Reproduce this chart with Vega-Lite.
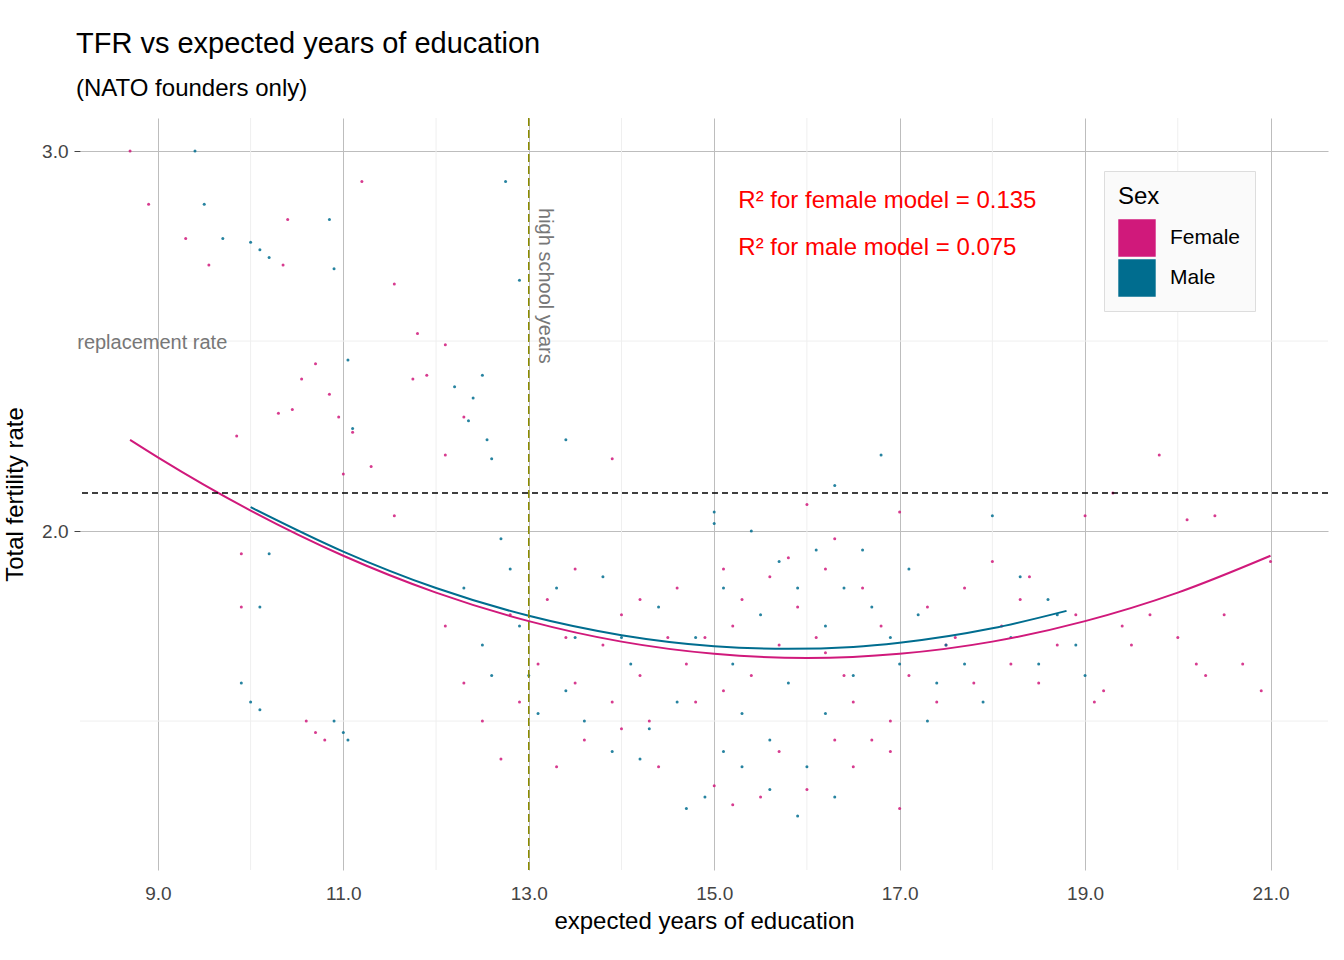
{
"$schema":"https://vega.github.io/schema/vega-lite/v6.json",
"width":1248,"height":752,"autosize":"none",
"padding":{"left":80,"top":118,"right":16,"bottom":90},
"background":"white",
"config":{"view":{"stroke":null},"font":"Liberation Sans"},
"title":{"text":"TFR vs expected years of education","subtitle":"(NATO founders only)","anchor":"start","frame":"group","offset":16,"dx":-4,"fontSize":29,"fontWeight":"normal","subtitleFontSize":24,"subtitlePadding":18,"color":"black","subtitleColor":"black","font":"Liberation Sans","subtitleFont":"Liberation Sans"},
"datasets":{
"pts":[
{"x":8.7,"y":3.0,"s":"Female"},{"x":8.9,"y":2.86,"s":"Female"},{"x":9.3,"y":2.77,"s":"Female"},{"x":9.55,"y":2.7,"s":"Female"},{"x":10.4,"y":2.82,"s":"Female"},{"x":10.35,"y":2.7,"s":"Female"},{"x":9.85,"y":2.25,"s":"Female"},{"x":11.2,"y":2.92,"s":"Female"},{"x":11.55,"y":2.65,"s":"Female"},{"x":11.8,"y":2.52,"s":"Female"},{"x":12.1,"y":2.49,"s":"Female"},{"x":11.75,"y":2.4,"s":"Female"},{"x":11.9,"y":2.41,"s":"Female"},{"x":10.7,"y":2.44,"s":"Female"},{"x":10.55,"y":2.4,"s":"Female"},{"x":10.85,"y":2.36,"s":"Female"},{"x":10.45,"y":2.32,"s":"Female"},{"x":10.3,"y":2.31,"s":"Female"},{"x":10.95,"y":2.3,"s":"Female"},{"x":11.1,"y":2.26,"s":"Female"},{"x":11.0,"y":2.15,"s":"Female"},{"x":11.3,"y":2.17,"s":"Female"},{"x":11.55,"y":2.04,"s":"Female"},{"x":12.3,"y":2.3,"s":"Female"},{"x":12.1,"y":2.2,"s":"Female"},{"x":13.9,"y":2.19,"s":"Female"},{"x":9.9,"y":1.94,"s":"Female"},{"x":9.9,"y":1.8,"s":"Female"},{"x":10.6,"y":1.5,"s":"Female"},{"x":10.7,"y":1.47,"s":"Female"},{"x":10.8,"y":1.45,"s":"Female"},
{"x":12.1,"y":1.75,"s":"Female"},{"x":12.3,"y":1.6,"s":"Female"},{"x":12.5,"y":1.5,"s":"Female"},{"x":12.7,"y":1.4,"s":"Female"},{"x":12.9,"y":1.55,"s":"Female"},{"x":13.1,"y":1.65,"s":"Female"},{"x":13.2,"y":1.82,"s":"Female"},{"x":13.4,"y":1.72,"s":"Female"},{"x":13.5,"y":1.6,"s":"Female"},{"x":13.6,"y":1.45,"s":"Female"},{"x":13.8,"y":1.7,"s":"Female"},{"x":13.9,"y":1.55,"s":"Female"},{"x":14.0,"y":1.78,"s":"Female"},{"x":14.2,"y":1.62,"s":"Female"},{"x":14.3,"y":1.5,"s":"Female"},{"x":14.4,"y":1.38,"s":"Female"},{"x":14.5,"y":1.72,"s":"Female"},{"x":14.6,"y":1.85,"s":"Female"},{"x":14.7,"y":1.65,"s":"Female"},{"x":14.8,"y":1.55,"s":"Female"},{"x":15.0,"y":1.33,"s":"Female"},{"x":15.1,"y":1.9,"s":"Female"},{"x":15.2,"y":1.75,"s":"Female"},{"x":15.3,"y":1.82,"s":"Female"},{"x":15.4,"y":1.62,"s":"Female"},{"x":15.5,"y":1.3,"s":"Female"},{"x":15.6,"y":1.88,"s":"Female"},{"x":15.7,"y":1.7,"s":"Female"},{"x":15.8,"y":1.93,"s":"Female"},{"x":15.9,"y":1.8,"s":"Female"},{"x":16.0,"y":2.07,"s":"Female"},{"x":16.1,"y":1.72,"s":"Female"},{"x":16.2,"y":1.9,"s":"Female"},{"x":16.3,"y":1.45,"s":"Female"},{"x":16.4,"y":1.62,"s":"Female"},{"x":16.5,"y":1.38,"s":"Female"},{"x":16.6,"y":1.85,"s":"Female"},{"x":16.7,"y":1.45,"s":"Female"},{"x":16.8,"y":1.75,"s":"Female"},{"x":16.9,"y":1.5,"s":"Female"},{"x":17.0,"y":2.05,"s":"Female"},{"x":17.1,"y":1.62,"s":"Female"},{"x":17.3,"y":1.8,"s":"Female"},{"x":17.4,"y":1.55,"s":"Female"},{"x":17.5,"y":1.7,"s":"Female"},{"x":17.7,"y":1.85,"s":"Female"},{"x":17.8,"y":1.6,"s":"Female"},{"x":18.0,"y":1.92,"s":"Female"},{"x":18.1,"y":1.75,"s":"Female"},{"x":18.2,"y":1.65,"s":"Female"},{"x":18.3,"y":1.82,"s":"Female"},{"x":18.5,"y":1.6,"s":"Female"},{"x":18.7,"y":1.7,"s":"Female"},{"x":18.9,"y":1.78,"s":"Female"},{"x":19.0,"y":2.04,"s":"Female"},{"x":19.1,"y":1.55,"s":"Female"},{"x":19.3,"y":2.1,"s":"Female"},{"x":19.4,"y":1.75,"s":"Female"},{"x":19.5,"y":1.7,"s":"Female"},{"x":19.7,"y":1.78,"s":"Female"},{"x":19.8,"y":2.2,"s":"Female"},{"x":20.0,"y":1.72,"s":"Female"},{"x":20.1,"y":2.03,"s":"Female"},{"x":20.2,"y":1.65,"s":"Female"},{"x":20.4,"y":2.04,"s":"Female"},{"x":20.5,"y":1.78,"s":"Female"},{"x":20.7,"y":1.65,"s":"Female"},{"x":20.9,"y":1.58,"s":"Female"},{"x":21.0,"y":1.92,"s":"Female"},{"x":19.2,"y":1.58,"s":"Female"},{"x":20.3,"y":1.62,"s":"Female"},{"x":14.0,"y":1.48,"s":"Female"},{"x":13.3,"y":1.38,"s":"Female"},{"x":15.7,"y":1.42,"s":"Female"},{"x":16.0,"y":1.32,"s":"Female"},{"x":16.9,"y":1.42,"s":"Female"},{"x":17.0,"y":1.27,"s":"Female"},{"x":15.2,"y":1.28,"s":"Female"},{"x":12.8,"y":1.78,"s":"Female"},{"x":13.5,"y":1.9,"s":"Female"},{"x":14.2,"y":1.82,"s":"Female"},{"x":16.3,"y":1.98,"s":"Female"},{"x":17.6,"y":1.72,"s":"Female"},{"x":18.4,"y":1.88,"s":"Female"},{"x":16.5,"y":1.55,"s":"Female"},{"x":15.1,"y":1.58,"s":"Female"},{"x":14.9,"y":1.72,"s":"Female"},{"x":16.2,"y":1.68,"s":"Female"},
{"x":9.4,"y":3.0,"s":"Male"},{"x":9.5,"y":2.86,"s":"Male"},{"x":9.7,"y":2.77,"s":"Male"},{"x":10.0,"y":2.76,"s":"Male"},{"x":10.2,"y":2.72,"s":"Male"},{"x":10.1,"y":2.74,"s":"Male"},{"x":10.85,"y":2.82,"s":"Male"},{"x":10.9,"y":2.69,"s":"Male"},{"x":12.75,"y":2.92,"s":"Male"},{"x":12.9,"y":2.66,"s":"Male"},{"x":11.05,"y":2.45,"s":"Male"},{"x":11.1,"y":2.27,"s":"Male"},{"x":12.2,"y":2.38,"s":"Male"},{"x":12.5,"y":2.41,"s":"Male"},{"x":12.4,"y":2.35,"s":"Male"},{"x":12.35,"y":2.29,"s":"Male"},{"x":12.55,"y":2.24,"s":"Male"},{"x":12.6,"y":2.19,"s":"Male"},{"x":13.4,"y":2.24,"s":"Male"},{"x":10.2,"y":1.94,"s":"Male"},{"x":10.1,"y":1.8,"s":"Male"},{"x":9.9,"y":1.6,"s":"Male"},{"x":10.0,"y":1.55,"s":"Male"},{"x":10.1,"y":1.53,"s":"Male"},{"x":11.0,"y":1.47,"s":"Male"},{"x":11.05,"y":1.45,"s":"Male"},{"x":10.9,"y":1.5,"s":"Male"},
{"x":12.3,"y":1.85,"s":"Male"},{"x":12.5,"y":1.7,"s":"Male"},{"x":12.6,"y":1.62,"s":"Male"},{"x":12.8,"y":1.9,"s":"Male"},{"x":12.9,"y":1.75,"s":"Male"},{"x":13.0,"y":1.62,"s":"Male"},{"x":13.1,"y":1.52,"s":"Male"},{"x":13.3,"y":1.85,"s":"Male"},{"x":13.4,"y":1.58,"s":"Male"},{"x":13.6,"y":1.5,"s":"Male"},{"x":13.8,"y":1.88,"s":"Male"},{"x":13.9,"y":1.42,"s":"Male"},{"x":14.1,"y":1.65,"s":"Male"},{"x":14.2,"y":1.4,"s":"Male"},{"x":14.4,"y":1.8,"s":"Male"},{"x":14.6,"y":1.55,"s":"Male"},{"x":14.7,"y":1.27,"s":"Male"},{"x":14.8,"y":1.72,"s":"Male"},{"x":14.9,"y":1.3,"s":"Male"},{"x":15.0,"y":2.02,"s":"Male"},{"x":15.1,"y":1.85,"s":"Male"},{"x":15.2,"y":1.65,"s":"Male"},{"x":15.3,"y":1.52,"s":"Male"},{"x":15.4,"y":2.0,"s":"Male"},{"x":15.5,"y":1.78,"s":"Male"},{"x":15.6,"y":1.45,"s":"Male"},{"x":15.7,"y":1.92,"s":"Male"},{"x":15.8,"y":1.6,"s":"Male"},{"x":15.9,"y":1.85,"s":"Male"},{"x":16.0,"y":1.38,"s":"Male"},{"x":16.1,"y":1.95,"s":"Male"},{"x":16.2,"y":1.75,"s":"Male"},{"x":16.4,"y":1.85,"s":"Male"},{"x":16.5,"y":1.62,"s":"Male"},{"x":16.6,"y":1.95,"s":"Male"},{"x":16.7,"y":1.8,"s":"Male"},{"x":16.8,"y":2.2,"s":"Male"},{"x":16.9,"y":1.72,"s":"Male"},{"x":17.0,"y":1.65,"s":"Male"},{"x":17.2,"y":1.78,"s":"Male"},{"x":17.4,"y":1.6,"s":"Male"},{"x":17.5,"y":1.7,"s":"Male"},{"x":17.7,"y":1.65,"s":"Male"},{"x":17.9,"y":1.55,"s":"Male"},{"x":18.0,"y":2.04,"s":"Male"},{"x":18.2,"y":1.72,"s":"Male"},{"x":18.3,"y":1.88,"s":"Male"},{"x":18.5,"y":1.65,"s":"Male"},{"x":18.7,"y":1.78,"s":"Male"},{"x":18.9,"y":1.7,"s":"Male"},{"x":19.0,"y":1.62,"s":"Male"},{"x":15.3,"y":1.38,"s":"Male"},{"x":15.6,"y":1.32,"s":"Male"},{"x":16.3,"y":1.3,"s":"Male"},{"x":15.1,"y":1.42,"s":"Male"},{"x":14.3,"y":1.48,"s":"Male"},{"x":13.5,"y":1.72,"s":"Male"},{"x":12.7,"y":1.98,"s":"Male"},{"x":14.0,"y":1.72,"s":"Male"},{"x":17.1,"y":1.9,"s":"Male"},{"x":16.3,"y":2.12,"s":"Male"},{"x":15.0,"y":2.05,"s":"Male"},{"x":17.3,"y":1.5,"s":"Male"},{"x":18.6,"y":1.82,"s":"Male"},{"x":15.9,"y":1.25,"s":"Male"},{"x":16.2,"y":1.52,"s":"Male"}
],
"fit":[
{"x":8.7,"y":2.24,"s":"Female"},{"x":9,"y":2.194,"s":"Female"},{"x":10,"y":2.054,"s":"Female"},{"x":11,"y":1.935,"s":"Female"},{"x":12,"y":1.838,"s":"Female"},{"x":13,"y":1.763,"s":"Female"},{"x":14,"y":1.709,"s":"Female"},{"x":15,"y":1.677,"s":"Female"},{"x":16,"y":1.666,"s":"Female"},{"x":17,"y":1.677,"s":"Female"},{"x":18,"y":1.709,"s":"Female"},{"x":19,"y":1.763,"s":"Female"},{"x":20,"y":1.838,"s":"Female"},{"x":21,"y":1.935,"s":"Female"},
{"x":10,"y":2.063,"s":"Male"},{"x":11,"y":1.946,"s":"Male"},{"x":12,"y":1.85,"s":"Male"},{"x":13,"y":1.777,"s":"Male"},{"x":14,"y":1.726,"s":"Male"},{"x":15,"y":1.697,"s":"Male"},{"x":15.8,"y":1.69,"s":"Male"},{"x":16.5,"y":1.695,"s":"Male"},{"x":17,"y":1.706,"s":"Male"},{"x":18,"y":1.744,"s":"Male"},{"x":18.8,"y":1.79,"s":"Male"}
]},
"layer":[
{"data":{"values":[{"x":10},{"x":12},{"x":14},{"x":16},{"x":18},{"x":20}]},"mark":{"type":"rule","color":"#efefef","strokeWidth":1},
"encoding":{"x":{"field":"x","type":"quantitative","scale":{"domain":[8.16,21.62],"nice":false,"zero":false},"axis":{"orient":"bottom","values":[9,11,13,15,17,19,21],"grid":true,"gridColor":"#bdbdbd","domain":false,"ticks":false,"labelFontSize":19,"labelColor":"#444","labelPadding":14,"title":"expected years of education","titleFontSize":24,"titleFontWeight":"normal","titleColor":"black","titlePadding":6}}}},
{"data":{"values":[{"y":1.5},{"y":2.5}]},"mark":{"type":"rule","color":"#efefef","strokeWidth":1},
"encoding":{"y":{"field":"y","type":"quantitative","scale":{"domain":[1.108,3.087],"nice":false,"zero":false},"axis":{"orient":"left","values":[2,3],"grid":true,"gridColor":"#bdbdbd","domain":false,"ticks":true,"tickColor":"#444","tickSize":6,"labelFontSize":19,"labelColor":"#444","labelPadding":6,"title":"Total fertility rate","titleFontSize":24,"titleFontWeight":"normal","titleColor":"black","titlePadding":14}}}},
{"data":{"name":"pts"},"mark":{"type":"point","filled":true,"size":9,"opacity":0.85},
"encoding":{
"x":{"field":"x","type":"quantitative"},
"y":{"field":"y","type":"quantitative"},
"color":{"field":"s","type":"nominal","scale":{"domain":["Female","Male"],"range":["#d0197b","#006d8f"]},
"legend":{"title":"Sex","orient":"none","legendX":1024,"legendY":53,"symbolType":"square","symbolSize":1400,"symbolOpacity":1,"symbolStrokeWidth":0,"titleFontSize":24,"titleFontWeight":"normal","titleColor":"black","labelFontSize":21,"labelColor":"black","padding":14,"fillColor":"#fafafa","strokeColor":"#dddddd","rowPadding":2,"labelOffset":14,"titlePadding":10}}}},
{"data":{"name":"fit"},"mark":{"type":"line","strokeWidth":2,"interpolate":"monotone"},
"encoding":{"x":{"field":"x","type":"quantitative"},"y":{"field":"y","type":"quantitative"},"color":{"field":"s","type":"nominal","legend":null}}},
{"data":{"values":[{"y":2.1}]},"mark":{"type":"rule","strokeDash":[6,4],"color":"black","strokeWidth":1.5},"encoding":{"y":{"field":"y","type":"quantitative"}}},
{"data":{"values":[{"x":13}]},"mark":{"type":"rule","strokeDash":[8,4],"color":"#8b8b00","strokeWidth":1.5},"encoding":{"x":{"field":"x","type":"quantitative"}}},
{"data":{"values":[{"x":15.26,"y":2.868,"t":"R² for female model = 0.135"},{"x":15.26,"y":2.745,"t":"R² for male model = 0.075"}]},"mark":{"type":"text","align":"left","baseline":"middle","color":"red","fontSize":24},"encoding":{"x":{"field":"x","type":"quantitative"},"y":{"field":"y","type":"quantitative"},"text":{"field":"t"}}},
{"data":{"values":[{"x":8.13,"y":2.495,"t":"replacement rate"}]},"mark":{"type":"text","align":"left","baseline":"middle","color":"#777","fontSize":20},"encoding":{"x":{"field":"x","type":"quantitative"},"y":{"field":"y","type":"quantitative"},"text":{"field":"t"}}},
{"data":{"values":[{"x":13.17,"y":2.85,"t":"high school years"}]},"mark":{"type":"text","align":"left","baseline":"middle","angle":90,"color":"#777","fontSize":20},"encoding":{"x":{"field":"x","type":"quantitative"},"y":{"field":"y","type":"quantitative"},"text":{"field":"t"}}}
]
}
